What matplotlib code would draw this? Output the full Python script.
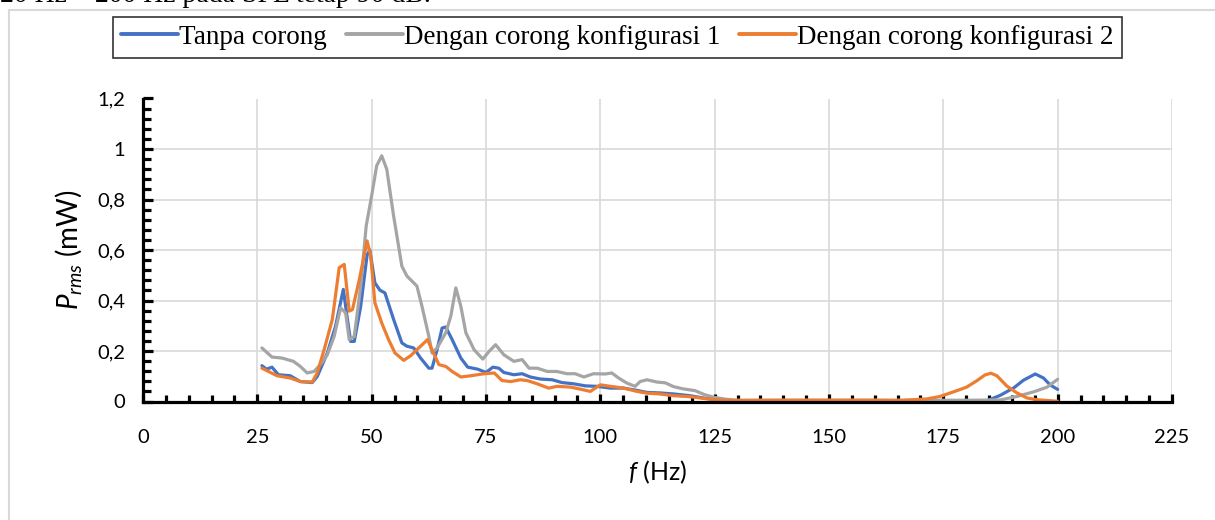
import numpy as np
import matplotlib
matplotlib.use("Agg")
import matplotlib.pyplot as plt
from matplotlib.ticker import MultipleLocator, FuncFormatter
from matplotlib.patches import Rectangle

# Data
f_tanpa = [26, 27, 28.2, 29.6, 32.2, 34.4, 37, 38.1, 40.3, 42.1, 43.8, 44.7, 45.4,
           46.2, 47.6, 49, 49.6, 50.7, 51.8, 52.9, 54.8, 56.6, 57.7, 59.2, 60.7,
           62.5, 63.2, 64.3, 65.4, 66.2, 67.6, 69.5, 71, 73.2, 75, 76.5, 77.8,
           78.9, 81.1, 82.9, 84.7, 86.9, 89.5, 91.6, 94.2, 96.7, 99.3, 102.2,
           105.1, 108, 110.2, 113, 116, 119.6, 123.2, 126.8, 130, 140, 150, 160,
           170, 180, 184.5, 187.4, 190.4, 192.5, 195.1, 196.9, 198.4, 200]
p_tanpa = [.142, .128, .136, .106, .102, .079, .075, .099, .192, .298, .444, .325,
           .238, .238, .377, .580, .600, .470, .441, .430, .325, .232, .219, .212,
           .172, .132, .132, .205, .291, .295, .245, .172, .136, .128, .115, .136,
           .132, .115, .106, .110, .097, .089, .086, .075, .070, .062, .060, .053,
           .053, .044, .036, .034, .030, .023, .012, .003, .002, .002, .002, .002,
           .002, .002, .003, .024, .054, .084, .109, .093, .065, .048]

f_konf1 = [26, 28.2, 30.4, 32.9, 34.4, 35.9, 37.4, 38.8, 40.3, 41.8, 43.2, 44.3,
           45.1, 46.2, 47.6, 48.8, 50, 51.1, 52.2, 53.3, 54.8, 56.6, 57.7, 59.9,
           61, 62.5, 63.2, 64.3, 66.2, 67.3, 68.4, 69.5, 70.6, 72.4, 74.3, 75.7,
           77.1, 78.9, 81.1, 82.9, 84.4, 86.2, 88.4, 90.5, 92.7, 94.5, 96.4, 98.5,
           101.1, 102.5, 104, 105.8, 107.6, 108.7, 110.2, 112.4, 114.2, 116,
           118.1, 120.7, 122.8, 125, 127.5, 130, 140, 150, 160, 170, 180, 187.4,
           191.1, 194.7, 197.7, 200]
p_konf1 = [.212, .176, .172, .159, .139, .113, .119, .146, .185, .258, .371, .351,
           .245, .258, .457, .695, .815, .934, .973, .920, .735, .536, .497, .457,
           .377, .258, .192, .212, .272, .338, .450, .377, .272, .205, .168, .199,
           .225, .185, .159, .166, .132, .132, .119, .119, .110, .110, .097, .110,
           .109, .113, .093, .073, .060, .079, .086, .077, .074, .059, .050, .043,
           .027, .016, .009, .005, .005, .005, .005, .005, .005, .006, .020, .038,
           .057, .088]

f_konf2 = [26, 29.3, 32.2, 34.4, 37, 38.1, 39.6, 41.4, 42.9, 44, 45.1, 45.8, 47.3,
           49, 49.8, 50.7, 52.2, 53.7, 55.1, 57, 58.5, 60.3, 62.2, 63.2, 64.7,
           66.2, 67.6, 69.5, 71.7, 74.6, 76.8, 78.5, 80.4, 82.5, 84, 86.2, 88.7,
           90.5, 93.5, 95.6, 97.8, 100, 102.2, 105.1, 108, 110.2, 113, 116, 119.6,
           123.2, 126.8, 130, 140, 150, 160, 165.5, 171.3, 174.3, 177.2, 180.1,
           182.3, 184.1, 185.4, 186.7, 188.9, 191.1, 193.3, 195.5, 197.7, 200]
p_konf2 = [.132, .102, .093, .079, .077, .113, .205, .325, .530, .543, .358, .364,
           .483, .636, .575, .391, .311, .245, .192, .163, .181, .212, .245, .205,
           .146, .139, .119, .097, .102, .110, .113, .083, .079, .086, .083, .070,
           .053, .060, .057, .049, .040, .066, .060, .053, .040, .033, .030, .023,
           .019, .011, .005, .004, .005, .005, .005, .004, .010, .020, .038, .057,
           .082, .105, .112, .102, .061, .034, .014, .007, .004, .001]

series_labels = ["Tanpa corong", "Dengan corong konfigurasi 1",
                 "Dengan corong konfigurasi 2"]
series_colors = ["#4472C4", "#A5A5A5", "#ED7D31"]

plt.rcParams["font.family"] = ["Lato", "DejaVu Sans"]
plt.rcParams["mathtext.fontset"] = "custom"
plt.rcParams["mathtext.rm"] = "Lato"
plt.rcParams["mathtext.it"] = "Lato:italic"


def main():
    fig = plt.figure(figsize=(12.15, 5.2), dpi=100)

    # chart frame and the clipped caption above it
    fig.patches.append(Rectangle((9 / 1215, -0.05), 1.2, 1 - 10 / 520 + 0.05,
                                 transform=fig.transFigure, fill=False,
                                 edgecolor="#D9D9D9", linewidth=1.5))
    fig.text(0.0, 1 - 2 / 520, "20 Hz \u2013 200 Hz pada SPL tetap 90 dB.",
             family="Liberation Serif", fontsize=20, va="baseline", ha="left")

    ax = fig.add_axes([143 / 1215, 1 - 401.5 / 520, 1029 / 1215, 303 / 520])

    for f, p, lab, col in zip([f_tanpa, f_konf1, f_konf2],
                              [p_tanpa, p_konf1, p_konf2],
                              series_labels, series_colors):
        ax.plot(f, p, color=col, lw=2.3, label=lab, solid_joinstyle="round",
                solid_capstyle="round", zorder=3)

    ax.set_xlim(0, 225)
    ax.set_ylim(0, 1.2)
    ax.xaxis.set_major_locator(MultipleLocator(25))
    ax.xaxis.set_minor_locator(MultipleLocator(5))
    ax.yaxis.set_major_locator(MultipleLocator(0.2))
    ax.yaxis.set_minor_locator(MultipleLocator(0.04))
    ax.yaxis.set_major_formatter(FuncFormatter(
        lambda v, _: f"{v:.1f}".rstrip("0").rstrip(".").replace(".", ",")))

    ax.grid(True, which="major", color="#D9D9D9", lw=1.2, zorder=0)
    ax.set_axisbelow(True)
    for s in ["top", "right"]:
        ax.spines[s].set_visible(False)
    for s in ["left", "bottom"]:
        ax.spines[s].set_linewidth(2.3)
        ax.spines[s].set_zorder(4)

    ax.tick_params(axis="both", which="both", direction="in", width=2.3,
                   labelsize=14.5)
    ax.tick_params(axis="x", which="major", length=6, pad=20)
    ax.tick_params(axis="x", which="minor", length=5)
    ax.tick_params(axis="y", which="major", length=7, pad=13)
    ax.tick_params(axis="y", which="minor", length=6)

    ax.set_xlabel("$f$ (Hz)", fontsize=18, labelpad=9)
    ax.set_ylabel("$P_{rms}$ (mW)", fontsize=20, labelpad=9)

    leg = ax.legend(loc="lower center", bbox_to_anchor=(0.461, 1.134), ncol=3,
                    prop={"family": "Liberation Serif", "size": 19.5},
                    frameon=True, fancybox=False, edgecolor="black",
                    handlelength=2.1, handletextpad=0.05, columnspacing=0.7,
                    borderpad=0.3, borderaxespad=0)
    leg.get_frame().set_linewidth(1.2)
    for line in leg.get_lines():
        line.set_linewidth(2.8)

    fig.savefig("out.png", dpi=100)


if __name__ == "__main__":
    main()
